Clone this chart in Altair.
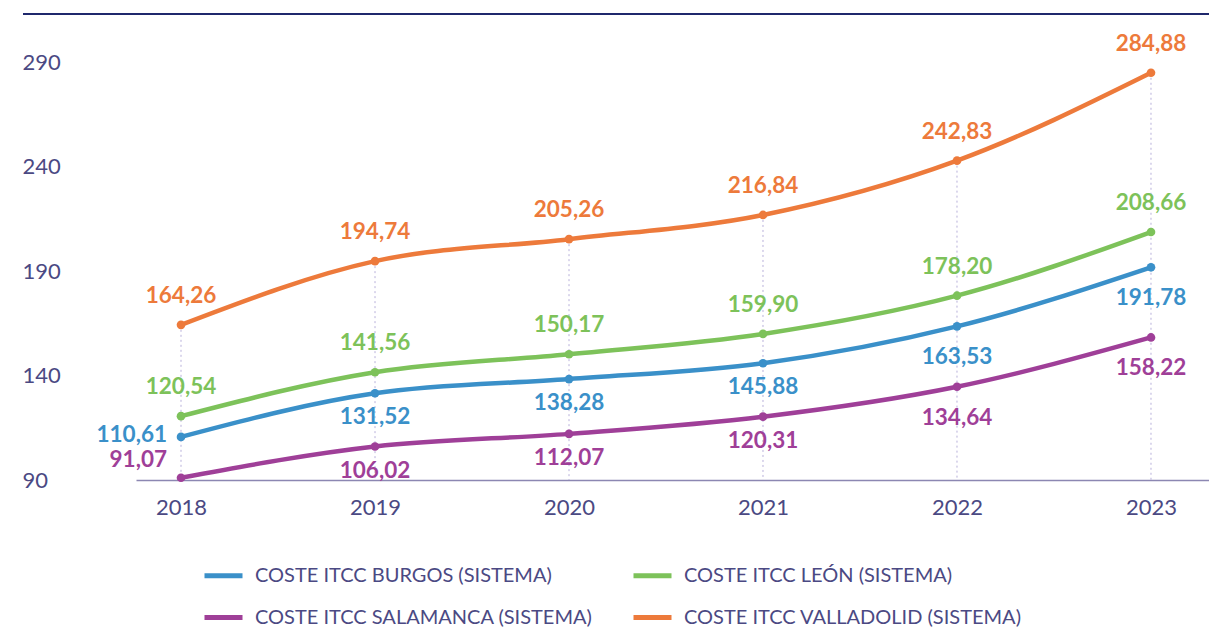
import altair as alt
import pandas as pd

years = [2018, 2019, 2020, 2021, 2022, 2023]
series_names = [
    "COSTE ITCC BURGOS (SISTEMA)",
    "COSTE ITCC LEÓN (SISTEMA)",
    "COSTE ITCC SALAMANCA (SISTEMA)",
    "COSTE ITCC VALLADOLID (SISTEMA)",
]
burgos = [110.61, 131.52, 138.28, 145.88, 163.53, 191.78]
leon = [120.54, 141.56, 150.17, 159.90, 178.20, 208.66]
salamanca = [91.07, 106.02, 112.07, 120.31, 134.64, 158.22]
valladolid = [164.26, 194.74, 205.26, 216.84, 242.83, 284.88]
colors = ["#3a90c9", "#7dc25a", "#9f3f98", "#ed7a3b"]
y_ticks = [90, 140, 190, 240, 290]

rows = []
for idx, (name, vals) in enumerate(zip(series_names, [burgos, leon, salamanca, valladolid])):
    for yr, v in zip(years, vals):
        rows.append({"year": yr, "series": name, "sidx": idx, "value": v,
                     "label": f"{v:.2f}".replace(".", ",")})
df = pd.DataFrame(rows)
vmax = df.groupby("year", as_index=False)["value"].max()

# legend fills column by column: order so rows read Burgos/León, Salamanca/Valladolid
leg_order = [series_names[0], series_names[2], series_names[1], series_names[3]]
leg_colors = [colors[0], colors[2], colors[1], colors[3]]

Y_MIN, Y_MAX = 90, 313
W, H = 1073, 466
TXT = "#4b4983"

xs = alt.Scale(domain=[2017.768, 2023.299], nice=False, zero=False)
ys = alt.Scale(domain=[Y_MIN, Y_MAX], nice=False, zero=False)
cs = alt.Scale(domain=leg_order, range=leg_colors)

x_enc = alt.X("year:Q", scale=xs, axis=alt.Axis(
    values=years, format="d", title=None, grid=False, ticks=False, tickSize=0,
    labelFontSize=22, labelColor=TXT, labelPadding=17, domainColor="#8c87b2",
    domainWidth=1.5))
y_enc = alt.Y("value:Q", scale=ys, axis=alt.Axis(
    values=y_ticks, title=None, grid=False, ticks=False, tickSize=0, domain=False,
    labelAlign="left", labelPadding=114, labelFontSize=22, labelColor=TXT,
    labelBaseline="middle"))

vrules = alt.Chart(vmax).mark_rule(color="#b8b0da", strokeDash=[2, 3], strokeWidth=1).encode(
    x=alt.X("year:Q", scale=xs), y=alt.Y("value:Q", scale=ys), y2=alt.datum(Y_MIN))

top = alt.Chart(vmax).mark_rule(color="#1f286c", strokeWidth=2).encode(
    y=alt.datum(Y_MAX), x=alt.value(-113), x2=alt.value(W))

base = alt.Chart(df)
lines = base.mark_line(interpolate="monotone", strokeWidth=4.5, strokeCap="round").encode(
    x=x_enc, y=y_enc,
    color=alt.Color("series:N", scale=cs, sort=leg_order, title=None,
                    legend=alt.Legend(orient="none", legendX=66, legendY=540,
                                      columns=2, symbolType="stroke",
                                      symbolSize=1444, symbolStrokeWidth=5,
                                      labelFontSize=20, labelColor=TXT,
                                      labelOffset=10, rowPadding=10,
                                      columnPadding=30, labelLimit=500)))
pts = base.mark_circle(size=75, opacity=1).encode(
    x=alt.X("year:Q", scale=xs), y=alt.Y("value:Q", scale=ys),
    color=alt.Color("series:N", scale=cs, legend=None))

def txt(expr, **kw):
    return base.transform_filter(expr).mark_text(
        fontSize=22.5, fontWeight="bold", baseline="middle", **kw).encode(
        x=alt.X("year:Q", scale=xs), y=alt.Y("value:Q", scale=ys),
        text="label:N", color=alt.Color("series:N", scale=cs, legend=None))

above = txt("datum.sidx == 1 || datum.sidx == 3", dy=-29)
below1 = txt("datum.year > 2018 && datum.year < 2022 && (datum.sidx == 0 || datum.sidx == 2)", dy=24)
below2 = txt("datum.year >= 2022 && (datum.sidx == 0 || datum.sidx == 2)", dy=31)
left_b = txt("datum.year == 2018 && datum.sidx == 0", align="right", dx=-14, dy=-2)
left_s = txt("datum.year == 2018 && datum.sidx == 2", align="right", dx=-14, dy=-18)

chart = alt.layer(vrules, top, lines, pts, above, below1, below2, left_b, left_s).properties(
    width=W, height=H,
    autosize=alt.AutoSizeParams(type="none"),
    padding={"left": 128, "top": 6, "right": 0, "bottom": 147},
).configure(font="Lato").configure_view(stroke=None)

chart.save("out.html", embed_options={"renderer": "svg", "actions": False})
